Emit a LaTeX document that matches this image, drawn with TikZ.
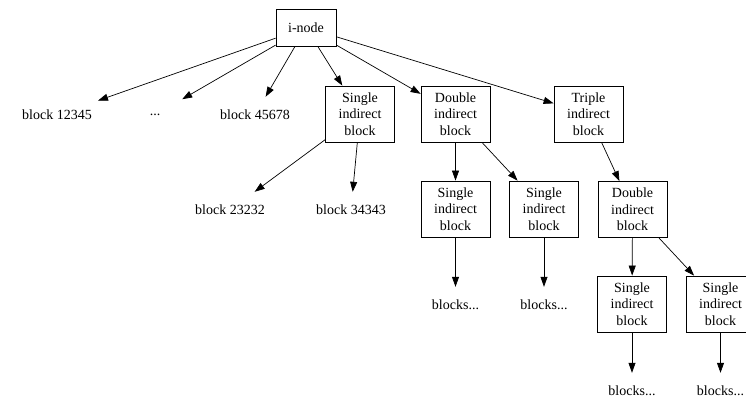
\documentclass[tikz,border=0pt]{standalone}
\usepackage{fontspec}
\setmainfont{Liberation Serif}
\usetikzlibrary{arrows.meta}
\begin{document}
\begin{tikzpicture}[x=1pt,y=-1pt,
  every node/.style={font=\fontsize{14}{16.5}\selectfont},
  blockbox/.style={draw, line width=0.8pt, minimum width=69pt, minimum height=56pt, inner sep=0pt, align=center},
  inodebox/.style={draw, line width=0.8pt, minimum width=60pt, minimum height=37pt, inner sep=0pt},
  txt/.style={minimum height=36pt, minimum width=54pt, inner xsep=6pt, inner ysep=0pt},
  arr/.style={-{Triangle[length=10pt,width=7pt]}, line width=0.7pt}]
\useasboundingbox (0,0) rectangle (746,399);
\clip (0,0) rectangle (746,399);
\node[inodebox] (inode) at (306,27.5) {i-node};
\node[txt] (b12345) at (57,115) {block 12345};
\node[txt] (dots) at (155,115) {...};
\node[txt] (b45678) at (255,115) {block 45678};
\node[blockbox] (s1) at (360,114) {Single\\indirect\\block};
\node[blockbox] (d1) at (455.5,114) {Double\\indirect\\block};
\node[blockbox] (t1) at (588.5,114) {Triple\\indirect\\block};
\node[txt] (b23232) at (230,210) {block 23232};
\node[txt] (b34343) at (351,210) {block 34343};
\node[blockbox] (s2) at (455.5,209) {Single\\indirect\\block};
\node[blockbox] (s3) at (544,209) {Single\\indirect\\block};
\node[txt] (bl1) at (455.5,305) {blocks...};
\node[txt] (bl2) at (544,305) {blocks...};
\node[blockbox] (d2) at (632.5,209.5) {Double\\indirect\\block};
\node[blockbox] (s4) at (632,304) {Single\\indirect\\block};
\node[blockbox] (s5) at (720.5,304) {Single\\indirect\\block};
\node[txt] (bl3) at (632,391) {blocks...};
\node[txt] (bl4) at (720.5,391) {blocks...};
\draw[arr] (inode) -- (b12345);
\draw[arr] (inode) -- (dots);
\draw[arr] (inode) -- (b45678);
\draw[arr] (inode) -- (s1);
\draw[arr] (inode) -- (d1);
\draw[arr] (inode) -- (t1);
\draw[arr] (s1) -- (b23232);
\draw[arr] (s1) -- (b34343);
\draw[arr] (d1) -- (s2);
\draw[arr] (d1) -- (s3);
\draw[arr] (s2) -- (bl1);
\draw[arr] (s3) -- (bl2);
\draw[arr] (t1) -- (d2);
\draw[arr] (d2) -- (s4);
\draw[arr] (d2) -- (s5);
\draw[arr] (s4) -- (bl3);
\draw[arr] (s5) -- (bl4);
\end{tikzpicture}
\end{document}
